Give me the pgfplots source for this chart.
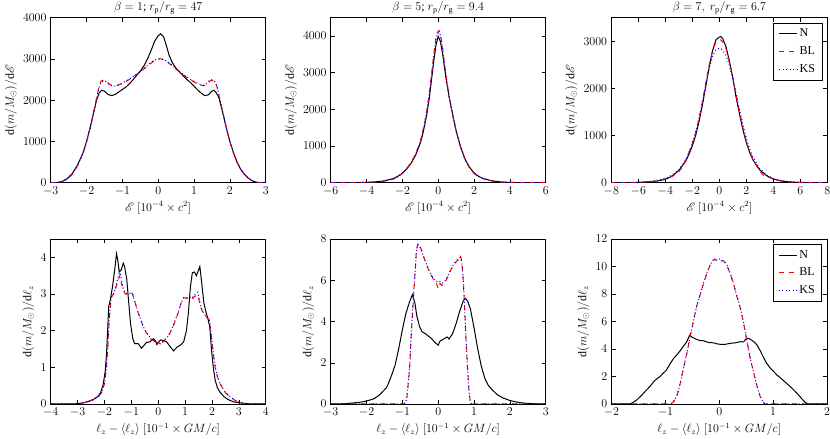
\documentclass[12pt,border=0pt]{standalone}
\usepackage{fontspec}
\setmainfont{Liberation Serif}
\usepackage{mathrsfs}
\usepackage{pgfplots}
\pgfplotsset{compat=1.18}
\pgfplotsset{
  panel/.style={scale only axis, width=215pt, height=165pt, anchor=south west,
    tick align=inside, major tick length=4pt, minor tick num=0,
    tick style={black, line width=0.5pt}, axis line style={line width=0.6pt},
    scaled ticks=false, /pgf/number format/set thousands separator={},
    /pgf/number format/fixed,
    title style={yshift=-7pt}, ylabel style={yshift=-2pt}, xlabel style={yshift=2pt}},
  nline/.style={color=black, draw=black, line width=1pt},
  blline/.style={color=red, draw=red, line width=1pt, dash pattern=on 5pt off 5pt},
  ksline/.style={color=blue, draw=blue, line width=1pt, dash pattern=on 1pt off 2.5pt},
  leg/.style={legend style={at={(1,1)}, anchor=north east, xshift=-5pt, yshift=-5pt,
    line width=0.6pt, cells={anchor=west}, row sep=4pt, inner xsep=5pt, inner ysep=4pt},
    legend image code/.code={\draw[##1] (0pt,0pt) -- (18pt,0pt);}}
}
\begin{document}
\begin{tikzpicture}
\useasboundingbox (0,0) rectangle (830pt,439pt);
% ---------------- top left
\begin{axis}[panel, at={(50.7pt,256.3pt)}, xmin=-3, xmax=3, ymin=0, ymax=4000,
  xtick={-3,-2,...,3}, ytick={0,1000,...,4000},
  title={$\beta=1$; $r_\mathrm{p}/r_\mathrm{g}=47$},
  xlabel={$\mathscr{E}\ [10^{-4}\times c^{2}]$},
  ylabel={$\mathrm{d}(m/M_{\odot})/\mathrm{d}\mathscr{E}$}]
\addplot[nline] coordinates {(-3.0,0)(-2.85,0)(-2.7,25)(-2.55,90)(-2.4,220)(-2.25,430)(-2.1,720)(-2.0,1000)(-1.9,1330)(-1.8,1700)(-1.72,2000)(-1.65,2170)(-1.58,2240)(-1.5,2220)(-1.4,2140)(-1.3,2110)(-1.2,2140)(-1.1,2200)(-1.0,2260)(-0.9,2320)(-0.8,2400)(-0.7,2500)(-0.6,2600)(-0.5,2700)(-0.4,2830)(-0.3,3000)(-0.2,3200)(-0.1,3430)(0.0,3560)(0.07,3610)(0.15,3540)(0.22,3350)(0.3,3100)(0.4,2900)(0.5,2770)(0.6,2680)(0.7,2590)(0.8,2500)(0.9,2430)(1.0,2340)(1.1,2250)(1.2,2170)(1.3,2110)(1.4,2130)(1.5,2220)(1.56,2240)(1.62,2180)(1.7,2050)(1.8,1700)(1.9,1330)(2.0,1000)(2.1,730)(2.2,500)(2.3,330)(2.4,210)(2.5,120)(2.6,60)(2.7,20)(2.8,5)(2.9,0)(3.0,0)};
\addplot[blline] coordinates {(-3.0,0)(-2.85,0)(-2.7,20)(-2.55,80)(-2.4,200)(-2.25,410)(-2.1,700)(-2.0,980)(-1.9,1320)(-1.8,1720)(-1.72,2050)(-1.66,2300)(-1.6,2460)(-1.52,2490)(-1.45,2460)(-1.35,2380)(-1.25,2350)(-1.15,2360)(-1.05,2390)(-0.95,2430)(-0.85,2480)(-0.75,2530)(-0.65,2600)(-0.55,2650)(-0.45,2720)(-0.35,2790)(-0.25,2860)(-0.15,2930)(-0.05,2980)(0.05,3010)(0.15,2980)(0.25,2930)(0.35,2860)(0.45,2780)(0.55,2720)(0.65,2650)(0.75,2580)(0.85,2520)(0.95,2470)(1.05,2420)(1.15,2380)(1.25,2350)(1.35,2370)(1.45,2470)(1.52,2480)(1.58,2440)(1.64,2330)(1.7,2100)(1.8,1720)(1.9,1340)(2.0,1000)(2.1,730)(2.2,500)(2.3,330)(2.4,210)(2.5,120)(2.6,60)(2.7,20)(2.8,5)(2.9,0)(3.0,0)};
\addplot[ksline] coordinates {(-3.0,0)(-2.85,0)(-2.7,22)(-2.55,85)(-2.4,210)(-2.25,420)(-2.1,710)(-2.0,990)(-1.9,1330)(-1.8,1710)(-1.72,2040)(-1.66,2280)(-1.6,2440)(-1.52,2470)(-1.45,2440)(-1.35,2360)(-1.25,2340)(-1.15,2350)(-1.05,2390)(-0.95,2440)(-0.85,2490)(-0.75,2540)(-0.65,2610)(-0.55,2670)(-0.45,2740)(-0.35,2810)(-0.25,2880)(-0.15,2950)(-0.05,2990)(0.05,3000)(0.15,2990)(0.25,2940)(0.35,2870)(0.45,2800)(0.55,2730)(0.65,2660)(0.75,2590)(0.85,2530)(0.95,2480)(1.05,2430)(1.15,2390)(1.25,2360)(1.35,2400)(1.45,2500)(1.52,2490)(1.58,2450)(1.64,2340)(1.7,2110)(1.8,1720)(1.9,1340)(2.0,1000)(2.1,730)(2.2,500)(2.3,330)(2.4,210)(2.5,120)(2.6,60)(2.7,20)(2.8,5)(2.9,0)(3.0,0)};
\end{axis}
% ---------------- top middle
\begin{axis}[panel, at={(330.7pt,256.3pt)}, xmin=-6, xmax=6, ymin=0, ymax=4500,
  xtick={-6,-4,...,6}, ytick={0,1000,...,4000},
  title={$\beta=5$; $r_\mathrm{p}/r_\mathrm{g}=9.4$},
  xlabel={$\mathscr{E}\ [10^{-4}\times c^{2}]$},
  ylabel={$\mathrm{d}(m/M_{\odot})/\mathrm{d}\mathscr{E}$}]
\addplot[nline] coordinates {(-6,0)(-5,0)(-4.5,3)(-4,8)(-3.5,20)(-3,50)(-2.5,115)(-2.25,175)(-2,260)(-1.75,380)(-1.5,540)(-1.25,760)(-1,1080)(-0.875,1300)(-0.75,1580)(-0.625,1900)(-0.5,2300)(-0.375,2800)(-0.25,3300)(-0.125,3750)(0,3990)(0.125,3850)(0.25,3500)(0.375,3050)(0.5,2650)(0.625,2300)(0.75,2000)(0.875,1700)(1,1420)(1.25,980)(1.5,640)(1.75,420)(2,270)(2.25,175)(2.5,115)(3,50)(3.5,20)(4,7)(4.5,2)(5,0)(6,0)};
\addplot[blline] coordinates {(-6,0)(-5,2)(-4.5,5)(-4,10)(-3.5,22)(-3,45)(-2.75,70)(-2.5,100)(-2.25,165)(-2,250)(-1.75,390)(-1.5,560)(-1.25,800)(-1,1120)(-0.875,1380)(-0.75,1650)(-0.625,2000)(-0.5,2420)(-0.375,2950)(-0.25,3480)(-0.125,3950)(-0.05,4100)(0.05,4150)(0.125,4050)(0.25,3650)(0.375,3150)(0.5,2700)(0.625,2300)(0.75,1980)(0.875,1680)(1,1400)(1.25,960)(1.5,620)(1.75,400)(2,250)(2.25,170)(2.5,110)(3,45)(3.5,18)(4,8)(4.5,4)(5,1)(6,0)};
\addplot[ksline] coordinates {(-6,0)(-5,1)(-4.5,4)(-4,9)(-3.5,21)(-3,47)(-2.75,72)(-2.5,105)(-2.25,170)(-2,255)(-1.75,385)(-1.5,555)(-1.25,790)(-1,1110)(-0.875,1360)(-0.75,1630)(-0.625,1980)(-0.5,2400)(-0.375,2920)(-0.25,3450)(-0.125,3900)(-0.05,4060)(0.05,4100)(0.125,4020)(0.25,3640)(0.375,3150)(0.5,2710)(0.625,2320)(0.75,2000)(0.875,1700)(1,1410)(1.25,970)(1.5,630)(1.75,410)(2,255)(2.25,172)(2.5,112)(3,47)(3.5,19)(4,8)(4.5,3)(5,1)(6,0)};
\end{axis}
% ---------------- top right
\begin{axis}[panel, leg, at={(611.3pt,256.3pt)}, width=216pt, xmin=-8, xmax=8, ymin=0, ymax=3500,
  xtick={-8,-6,...,8}, ytick={0,1000,...,3000},
  title={$\beta=7,\ r_\mathrm{p}/r_\mathrm{g}=6.7$},
  xlabel={$\mathscr{E}\ [10^{-4}\times c^{2}]$},
  ylabel={$\mathrm{d}(m/M_{\odot})/\mathrm{d}\mathscr{E}$}]
\addplot[nline] coordinates {(-8,0)(-7,0)(-6,5)(-5.5,12)(-5,22)(-4.5,40)(-4,70)(-3.5,140)(-3,260)(-2.5,450)(-2.25,600)(-2,780)(-1.75,1000)(-1.5,1300)(-1.25,1650)(-1,2050)(-0.75,2450)(-0.5,2800)(-0.25,3030)(0,3090)(0.1,3100)(0.25,3060)(0.5,2880)(0.75,2580)(1,2230)(1.25,1800)(1.5,1450)(1.75,1120)(2,850)(2.25,640)(2.5,480)(3,270)(3.5,150)(4,80)(4.5,40)(5,20)(5.5,10)(6,4)(7,0)(8,0)};
\addlegendentry{N}
\addplot[blline] coordinates {(-8,0)(-7,1)(-6,6)(-5,25)(-4.5,45)(-4,80)(-3.5,130)(-3,230)(-2.75,330)(-2.5,470)(-2.25,640)(-2,830)(-1.75,1060)(-1.5,1360)(-1.25,1720)(-1,2120)(-0.75,2500)(-0.5,2800)(-0.25,2980)(0,3030)(0.1,3030)(0.25,2990)(0.5,2840)(0.75,2560)(1,2230)(1.25,1850)(1.5,1500)(1.75,1160)(2,880)(2.25,660)(2.5,490)(2.75,360)(3,250)(3.25,160)(3.5,130)(4,80)(4.5,45)(5,22)(5.5,10)(6,5)(7,1)(8,0)};
\addlegendentry{BL}
\addplot[ksline] coordinates {(-8,0)(-7,2)(-6,8)(-5,30)(-4.5,55)(-4,95)(-3.5,160)(-3,270)(-2.5,480)(-2.25,640)(-2,840)(-1.75,1080)(-1.5,1380)(-1.25,1720)(-1,2080)(-0.75,2420)(-0.5,2680)(-0.25,2820)(0,2850)(0.1,2850)(0.25,2810)(0.5,2700)(0.75,2480)(1,2200)(1.25,1880)(1.5,1550)(1.75,1230)(2,950)(2.25,720)(2.5,540)(3,300)(3.5,160)(4,90)(4.5,50)(5,28)(6,8)(7,2)(8,0)};
\addlegendentry{KS}
\end{axis}
% ---------------- bottom left
\begin{axis}[panel, at={(50.7pt,35pt)}, xmin=-4, xmax=4, ymin=0, ymax=4.5,
  xtick={-4,-3,...,4}, ytick={0,1,...,4},
  xlabel={$\ell_z-\langle\ell_z\rangle\ [10^{-1}\times GM/c]$},
  ylabel={$\mathrm{d}(m/M_{\odot})/\mathrm{d}\ell_z$}]
\addplot[nline] coordinates {(-4,0)(-3.2,0)(-3,0.01)(-2.8,0.03)(-2.6,0.07)(-2.4,0.13)(-2.25,0.2)(-2.15,0.3)(-2.05,0.52)(-1.97,0.9)(-1.92,1.4)(-1.87,2.2)(-1.84,2.66)(-1.78,2.85)(-1.7,3.2)(-1.62,3.65)(-1.55,4.1)(-1.5,3.9)(-1.45,3.6)(-1.38,3.65)(-1.3,3.84)(-1.25,3.75)(-1.17,3.4)(-1.1,2.8)(-1.03,2.2)(-0.95,1.8)(-0.88,1.65)(-0.75,1.65)(-0.62,1.52)(-0.55,1.58)(-0.45,1.67)(-0.3,1.7)(-0.18,1.78)(-0.1,1.72)(-0.05,1.62)(0.05,1.72)(0.1,1.75)(0.2,1.73)(0.32,1.69)(0.45,1.56)(0.57,1.45)(0.7,1.55)(0.85,1.62)(0.95,1.7)(1.05,2.0)(1.12,2.46)(1.2,3.2)(1.27,3.58)(1.35,3.6)(1.42,3.5)(1.5,3.65)(1.55,3.75)(1.62,3.3)(1.7,2.75)(1.78,2.5)(1.86,2.3)(1.92,2.1)(1.98,1.5)(2.05,1.0)(2.12,0.65)(2.2,0.45)(2.3,0.32)(2.45,0.2)(2.6,0.12)(2.8,0.06)(3.05,0.03)(3.3,0.01)(3.5,0)(4,0)};
\addplot[blline] coordinates {(-4,0)(-3.2,0)(-3,0.01)(-2.8,0.03)(-2.6,0.06)(-2.4,0.12)(-2.2,0.22)(-2.1,0.32)(-2.0,0.55)(-1.93,0.95)(-1.87,1.6)(-1.82,2.3)(-1.77,2.75)(-1.72,2.95)(-1.65,3.0)(-1.58,3.15)(-1.5,3.35)(-1.43,3.5)(-1.37,3.3)(-1.3,3.1)(-1.22,3.0)(-1.12,3.0)(-1.02,3.05)(-0.95,3.0)(-0.85,2.75)(-0.75,2.5)(-0.65,2.3)(-0.55,2.1)(-0.45,1.95)(-0.35,1.85)(-0.25,1.75)(-0.15,1.72)(-0.08,1.62)(0.0,1.7)(0.08,1.6)(0.15,1.68)(0.25,1.75)(0.35,1.82)(0.45,1.95)(0.55,2.1)(0.65,2.3)(0.75,2.5)(0.85,2.75)(0.95,2.9)(1.05,2.88)(1.15,2.9)(1.25,2.85)(1.33,2.92)(1.4,2.95)(1.47,2.98)(1.53,2.8)(1.6,2.6)(1.7,2.45)(1.8,2.37)(1.9,2.3)(1.97,1.9)(2.05,1.38)(2.12,1.0)(2.2,0.75)(2.3,0.56)(2.45,0.35)(2.6,0.24)(2.7,0.18)(2.9,0.08)(3.1,0.03)(3.3,0)(4,0)};
\addplot[ksline] coordinates {(-4,0)(-3.2,0)(-3,0.01)(-2.8,0.03)(-2.6,0.06)(-2.4,0.12)(-2.2,0.22)(-2.1,0.33)(-2.0,0.57)(-1.93,0.98)(-1.87,1.65)(-1.82,2.35)(-1.77,2.78)(-1.72,2.97)(-1.65,3.02)(-1.58,3.2)(-1.5,3.45)(-1.43,3.64)(-1.37,3.4)(-1.3,3.15)(-1.22,3.02)(-1.12,3.0)(-1.02,3.03)(-0.95,2.98)(-0.85,2.74)(-0.75,2.5)(-0.65,2.3)(-0.55,2.1)(-0.45,1.96)(-0.35,1.86)(-0.25,1.77)(-0.15,1.73)(-0.08,1.66)(0.0,1.68)(0.08,1.64)(0.15,1.7)(0.25,1.76)(0.35,1.83)(0.45,1.96)(0.55,2.12)(0.65,2.32)(0.75,2.52)(0.85,2.76)(0.95,2.9)(1.05,2.9)(1.15,2.92)(1.25,2.88)(1.33,2.96)(1.4,3.02)(1.47,3.05)(1.53,2.85)(1.6,2.62)(1.7,2.46)(1.8,2.38)(1.9,2.3)(1.97,1.92)(2.05,1.4)(2.12,1.02)(2.2,0.77)(2.3,0.57)(2.45,0.36)(2.6,0.25)(2.7,0.18)(2.9,0.08)(3.1,0.03)(3.3,0)(4,0)};
\end{axis}
% ---------------- bottom middle
\begin{axis}[panel, at={(330.7pt,35pt)}, xmin=-3, xmax=3, ymin=0, ymax=8,
  xtick={-3,-2,...,3}, ytick={0,2,...,8},
  xlabel={$\ell_z-\langle\ell_z\rangle\ [10^{-1}\times GM/c]$},
  ylabel={$\mathrm{d}(m/M_{\odot})/\mathrm{d}\ell_z$}]
\addplot[nline] coordinates {(-3,0)(-2.7,0.01)(-2.5,0.03)(-2.2,0.08)(-2,0.14)(-1.8,0.25)(-1.65,0.42)(-1.55,0.6)(-1.45,0.78)(-1.4,0.95)(-1.3,1.4)(-1.2,1.9)(-1.1,2.7)(-1.0,3.6)(-0.9,4.4)(-0.8,4.95)(-0.72,5.3)(-0.65,4.9)(-0.6,4.3)(-0.52,3.75)(-0.45,3.5)(-0.35,3.4)(-0.28,3.3)(-0.2,3.2)(-0.1,3.0)(0,2.85)(0.05,3.05)(0.15,3.15)(0.25,3.25)(0.3,3.15)(0.4,3.4)(0.5,3.9)(0.6,4.5)(0.7,5.0)(0.76,5.12)(0.82,5.0)(0.9,4.6)(1.0,3.7)(1.1,2.7)(1.2,1.85)(1.3,1.25)(1.4,0.9)(1.5,0.7)(1.65,0.45)(1.8,0.3)(2.0,0.17)(2.2,0.09)(2.4,0.04)(2.6,0.02)(3,0)};
\addplot[blline] coordinates {(-3,0)(-0.95,0)(-0.88,0.2)(-0.8,1.65)(-0.74,3.75)(-0.67,5.7)(-0.61,7.4)(-0.57,7.8)(-0.52,7.7)(-0.45,7.4)(-0.4,7.1)(-0.33,6.8)(-0.27,6.5)(-0.2,6.25)(-0.12,6.0)(-0.05,5.85)(0.0,5.6)(0.05,5.85)(0.1,5.75)(0.16,5.8)(0.22,6.0)(0.28,6.2)(0.35,6.5)(0.42,6.7)(0.5,6.9)(0.57,7.0)(0.62,7.2)(0.66,6.9)(0.7,6.0)(0.74,4.5)(0.78,3.0)(0.82,1.65)(0.86,0.6)(0.9,0.05)(0.93,0)(3,0)};
\addplot[ksline] coordinates {(-3,0)(-0.95,0)(-0.88,0.22)(-0.8,1.7)(-0.74,3.8)(-0.67,5.75)(-0.61,7.35)(-0.57,7.75)(-0.52,7.65)(-0.45,7.35)(-0.4,7.1)(-0.33,6.8)(-0.27,6.55)(-0.2,6.3)(-0.12,6.05)(-0.05,5.95)(0.0,5.9)(0.05,5.95)(0.1,5.85)(0.16,5.9)(0.22,6.05)(0.28,6.25)(0.35,6.5)(0.42,6.75)(0.5,6.95)(0.57,7.05)(0.62,7.1)(0.66,6.85)(0.7,6.0)(0.74,4.55)(0.78,3.05)(0.82,1.7)(0.86,0.62)(0.9,0.06)(0.93,0)(3,0)};
\end{axis}
% ---------------- bottom right
\begin{axis}[panel, leg, at={(611.5pt,35pt)}, width=215.5pt, xmin=-2, xmax=2, ymin=0, ymax=12,
  xtick={-2,-1,...,2}, ytick={0,2,...,12},
  xlabel={$\ell_z-\langle\ell_z\rangle\ [10^{-1}\times GM/c]$},
  ylabel={$\mathrm{d}(m/M_{\odot})/\mathrm{d}\ell_z$}]
\addplot[nline] coordinates {(-2,0)(-1.65,0)(-1.6,0.12)(-1.53,0.3)(-1.45,0.6)(-1.38,0.9)(-1.29,1.26)(-1.2,1.7)(-1.1,2.0)(-1.05,2.2)(-0.98,2.47)(-0.9,3.0)(-0.85,3.3)(-0.79,3.56)(-0.73,3.85)(-0.67,4.17)(-0.6,4.55)(-0.55,5.0)(-0.5,4.85)(-0.42,4.7)(-0.35,4.6)(-0.29,4.6)(-0.22,4.5)(-0.17,4.46)(-0.1,4.45)(-0.05,4.38)(0.02,4.34)(0.1,4.33)(0.2,4.41)(0.3,4.45)(0.39,4.53)(0.45,4.52)(0.51,4.78)(0.56,4.75)(0.6,4.65)(0.65,4.5)(0.7,4.3)(0.75,3.95)(0.82,3.4)(0.88,2.96)(0.95,2.6)(1.07,2.11)(1.15,1.85)(1.25,1.5)(1.32,1.26)(1.4,0.95)(1.5,0.53)(1.55,0.3)(1.6,0.1)(1.65,0)(2,0)};
\addlegendentry{N}
\addplot[blline] coordinates {(-2,0)(-0.9,0)(-0.85,0.15)(-0.79,0.53)(-0.73,1.4)(-0.67,2.47)(-0.6,3.7)(-0.54,4.9)(-0.48,6.0)(-0.42,7.1)(-0.35,8.0)(-0.29,8.8)(-0.23,9.5)(-0.17,10.1)(-0.12,10.4)(-0.08,10.55)(-0.04,10.4)(0.0,10.5)(0.04,10.4)(0.08,10.4)(0.14,10.1)(0.2,9.5)(0.26,8.8)(0.32,7.9)(0.39,7.0)(0.45,5.9)(0.51,4.65)(0.57,3.4)(0.64,2.23)(0.7,1.3)(0.76,0.53)(0.81,0.15)(0.85,0)(2,0)};
\addlegendentry{BL}
\addplot[ksline] coordinates {(-2,0)(-0.9,0)(-0.85,0.16)(-0.79,0.55)(-0.73,1.42)(-0.67,2.5)(-0.6,3.72)(-0.54,4.92)(-0.48,6.02)(-0.42,7.1)(-0.35,8.02)(-0.29,8.82)(-0.23,9.52)(-0.17,10.1)(-0.12,10.45)(-0.08,10.5)(-0.04,10.45)(0.0,10.55)(0.04,10.45)(0.08,10.42)(0.14,10.15)(0.2,9.55)(0.26,8.85)(0.32,7.95)(0.39,7.05)(0.45,5.95)(0.51,4.7)(0.57,3.45)(0.64,2.25)(0.7,1.32)(0.76,0.55)(0.81,0.16)(0.85,0)(2,0)};
\addlegendentry{KS}
\end{axis}
\end{tikzpicture}
\end{document}
